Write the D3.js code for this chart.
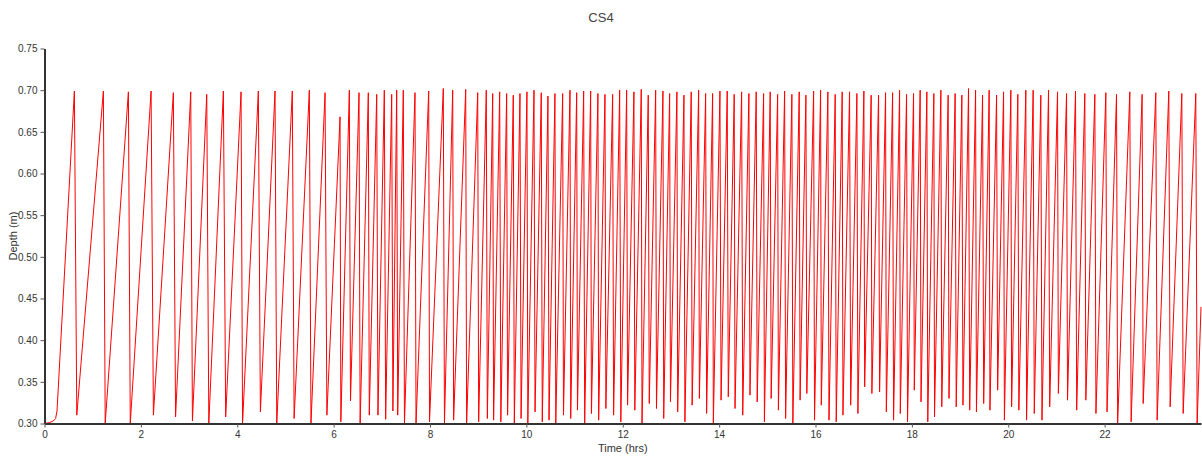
<!DOCTYPE html>
<html>
<head>
<meta charset="utf-8">
<script src="https://cdn.jsdelivr.net/npm/d3@7"></script>
<style>
  html, body { margin: 0; padding: 0; background: #fff; }
  svg { display: block; font-family: "Liberation Sans", Arial, sans-serif; }
</style>
</head>
<body>
<svg id="chart" width="1202" height="458"></svg>
<script>
// ---- data ----
const title = "CS4";
const xLabel = "Time (hrs)";
const yLabel = "Depth (m)";
const xTicks = [0, 2, 4, 6, 8, 10, 12, 14, 16, 18, 20, 22];
const yTicks = [0.30, 0.35, 0.40, 0.45, 0.50, 0.55, 0.60, 0.65, 0.70, 0.75];

// initial filling ramp
const startTimes  = [0.00, 0.10, 0.18, 0.23, 0.26];
const startDepths = [0.300, 0.301, 0.303, 0.306, 0.315];

// each cycle: peak, then sudden drop to trough
const peakTimes = [
  0.620, 1.222, 1.741, 2.212, 2.674, 3.035, 3.367, 3.712, 4.079, 4.438,
  4.784, 5.143, 5.496, 5.822, 6.133, 6.326, 6.527, 6.720, 6.894, 7.052,
  7.205, 7.309, 7.446, 7.689, 7.973, 8.276, 8.471, 8.741, 8.990, 9.168,
  9.301, 9.446, 9.591, 9.728, 9.867, 10.012, 10.158, 10.309, 10.448, 10.593,
  10.753, 10.905, 11.044, 11.189, 11.334, 11.485, 11.631, 11.790, 11.936, 12.081,
  12.232, 12.384, 12.529, 12.683, 12.834, 12.973, 13.124, 13.270, 13.421, 13.575,
  13.720, 13.865, 14.017, 14.168, 14.313, 14.467, 14.618, 14.770, 14.923, 15.060,
  15.214, 15.359, 15.510, 15.662, 15.801, 15.961, 16.106, 16.257, 16.409, 16.554,
  16.707, 16.859, 17.004, 17.155, 17.309, 17.454, 17.600, 17.745, 17.890, 18.035,
  18.172, 18.311, 18.456, 18.602, 18.753, 18.898, 19.037, 19.176, 19.322, 19.467,
  19.604, 19.758, 19.903, 20.054, 20.199, 20.365, 20.517, 20.676, 20.836, 21.023,
  21.210, 21.396, 21.589, 21.797, 22.025, 22.247, 22.523, 22.778, 23.062, 23.332,
  23.602, 23.892
];
const peakDepths = [
  0.699, 0.699, 0.698, 0.699, 0.697, 0.698, 0.695, 0.699, 0.698, 0.699,
  0.699, 0.699, 0.700, 0.697, 0.668, 0.700, 0.697, 0.697, 0.695, 0.700,
  0.695, 0.700, 0.700, 0.697, 0.699, 0.702, 0.700, 0.701, 0.697, 0.700,
  0.696, 0.698, 0.696, 0.694, 0.696, 0.698, 0.700, 0.697, 0.693, 0.696,
  0.696, 0.700, 0.697, 0.699, 0.699, 0.696, 0.695, 0.695, 0.700, 0.700,
  0.698, 0.701, 0.694, 0.700, 0.699, 0.696, 0.698, 0.694, 0.698, 0.700,
  0.696, 0.696, 0.699, 0.699, 0.695, 0.698, 0.696, 0.698, 0.696, 0.698,
  0.695, 0.699, 0.695, 0.698, 0.694, 0.699, 0.700, 0.698, 0.695, 0.698,
  0.698, 0.696, 0.699, 0.694, 0.694, 0.697, 0.697, 0.700, 0.695, 0.696,
  0.700, 0.698, 0.696, 0.700, 0.694, 0.696, 0.694, 0.702, 0.700, 0.694,
  0.700, 0.694, 0.698, 0.700, 0.695, 0.700, 0.700, 0.694, 0.700, 0.698,
  0.696, 0.699, 0.696, 0.695, 0.697, 0.695, 0.698, 0.695, 0.697, 0.699,
  0.696, 0.696
];
const troughTimes = [
  0.67, 1.26, 1.78, 2.26, 2.72, 3.07, 3.41, 3.76, 4.11, 4.48,
  4.82, 5.18, 5.53, 5.86, 6.15, 6.35, 6.55, 6.74, 6.92, 7.08,
  7.23, 7.33, 7.47, 7.71, 7.99, 8.30, 8.49, 8.76, 9.01, 9.19,
  9.32, 9.47, 9.61, 9.75, 9.89, 10.03, 10.18, 10.33, 10.47, 10.61,
  10.77, 10.92, 11.06, 11.21, 11.35, 11.50, 11.65, 11.81, 11.96, 12.10,
  12.25, 12.40, 12.55, 12.70, 12.85, 12.99, 13.14, 13.29, 13.44, 13.59,
  13.74, 13.88, 14.04, 14.19, 14.33, 14.49, 14.64, 14.79, 14.94, 15.08,
  15.23, 15.38, 15.53, 15.68, 15.82, 15.98, 16.12, 16.28, 16.43, 16.57,
  16.73, 16.88, 17.02, 17.17, 17.33, 17.47, 17.62, 17.76, 17.91, 18.05,
  18.19, 18.33, 18.47, 18.62, 18.77, 18.92, 19.06, 19.20, 19.34, 19.49,
  19.62, 19.78, 19.92, 20.07, 20.22, 20.38, 20.54, 20.70, 20.86, 21.04,
  21.23, 21.42, 21.61, 21.82, 22.05, 22.27, 22.55, 22.80, 23.09, 23.36,
  23.63, 23.92
];
const troughDepths = [
  0.310, 0.300, 0.300, 0.310, 0.308, 0.303, 0.300, 0.308, 0.300, 0.314,
  0.300, 0.306, 0.300, 0.310, 0.302, 0.327, 0.300, 0.310, 0.310, 0.305,
  0.315, 0.310, 0.300, 0.300, 0.302, 0.300, 0.304, 0.300, 0.302, 0.306,
  0.304, 0.302, 0.310, 0.300, 0.306, 0.300, 0.314, 0.302, 0.304, 0.300,
  0.310, 0.306, 0.316, 0.300, 0.312, 0.304, 0.318, 0.310, 0.302, 0.322,
  0.316, 0.300, 0.324, 0.318, 0.306, 0.326, 0.314, 0.302, 0.322, 0.330,
  0.312, 0.300, 0.328, 0.332, 0.318, 0.310, 0.334, 0.326, 0.302, 0.330,
  0.316, 0.306, 0.300, 0.328, 0.336, 0.304, 0.322, 0.304, 0.302, 0.310,
  0.322, 0.312, 0.344, 0.336, 0.338, 0.314, 0.304, 0.312, 0.302, 0.340,
  0.326, 0.302, 0.308, 0.320, 0.330, 0.320, 0.322, 0.316, 0.314, 0.324,
  0.316, 0.340, 0.304, 0.320, 0.316, 0.304, 0.312, 0.304, 0.320, 0.336,
  0.328, 0.316, 0.328, 0.312, 0.314, 0.300, 0.302, 0.324, 0.304, 0.320,
  0.312, 0.300
];
const endTimes  = [24.0];
const endDepths = [0.440];

// ---- build the vertex list ----
const pts = [];
startTimes.forEach((t, i) => pts.push([t, startDepths[i]]));
peakTimes.forEach((t, i) => {
  pts.push([t, peakDepths[i]]);
  pts.push([troughTimes[i], troughDepths[i]]);
});
endTimes.forEach((t, i) => pts.push([t, endDepths[i]]));

// ---- layout ----
const W = 1202, H = 458;
const m = { left: 44.5, right: 1201, top: 48.5, bottom: 423.5 };
const svg = d3.select("#chart");

const x = d3.scaleLinear().domain([0, 24]).range([m.left, m.right]);
const y = d3.scaleLinear().domain([0.30, 0.75]).range([m.bottom, m.top]);

svg.append("defs").append("clipPath").attr("id", "plot")
  .append("rect").attr("x", m.left).attr("y", m.top - 2)
  .attr("width", m.right - m.left + 1).attr("height", m.bottom - m.top + 2);

// line
svg.append("path")
  .datum(pts)
  .attr("clip-path", "url(#plot)")
  .attr("fill", "none")
  .attr("stroke", "#ff0000")
  .attr("stroke-width", 1)
  .attr("d", d3.line().x(d => x(d[0])).y(d => y(d[1])));

// axes
const yAxis = svg.append("g")
  .attr("transform", `translate(${m.left},0)`)
  .call(d3.axisLeft(y).tickValues(yTicks).tickFormat(d3.format(".2f")).tickSize(4).tickSizeOuter(0).tickPadding(3));
const xAxis = svg.append("g")
  .attr("transform", `translate(0,${m.bottom})`)
  .call(d3.axisBottom(x).tickValues(xTicks).tickFormat(d3.format("d")).tickSize(4).tickSizeOuter(0).tickPadding(3));

[yAxis, xAxis].forEach(g => {
  g.select(".domain").attr("stroke", "#333").attr("stroke-width", 2);
  g.selectAll(".tick line").attr("stroke", "#555");
  g.selectAll(".tick text").attr("fill", "#333").style("font-size", "10px")
    .style("font-family", "'Liberation Sans', Arial, sans-serif");
});

// title & labels
svg.append("text")
  .attr("x", W / 2).attr("y", 22)
  .attr("text-anchor", "middle")
  .attr("fill", "#444")
  .style("font-size", "13px")
  .text(title);

svg.append("text")
  .attr("x", (m.left + m.right) / 2).attr("y", 452)
  .attr("text-anchor", "middle")
  .attr("fill", "#333")
  .style("font-size", "11px")
  .text(xLabel);

svg.append("text")
  .attr("transform", `translate(17,${(m.top + m.bottom) / 2}) rotate(-90)`)
  .attr("text-anchor", "middle")
  .attr("fill", "#333")
  .style("font-size", "11px")
  .text(yLabel);
</script>
</body>
</html>
